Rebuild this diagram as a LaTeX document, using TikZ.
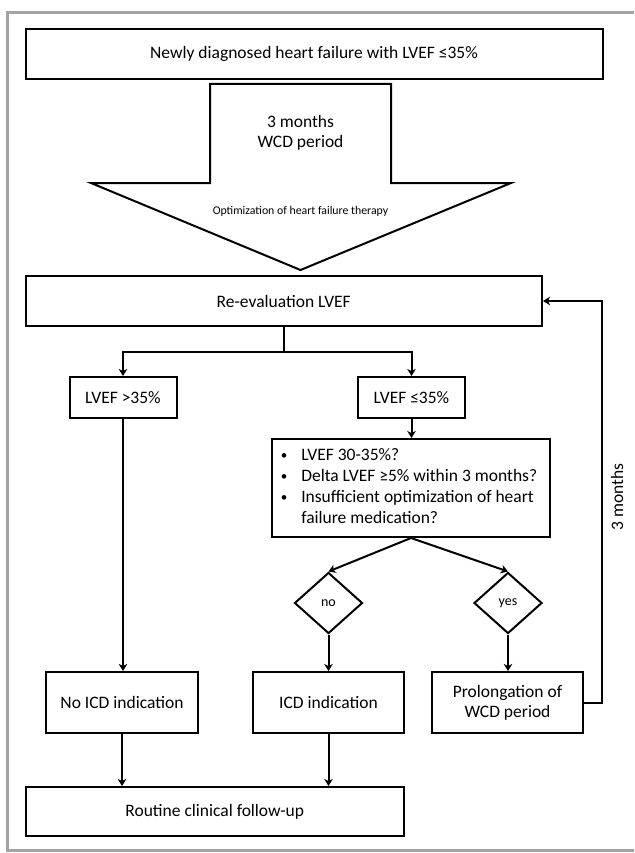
\documentclass[tikz,border=0pt]{standalone}
\usepackage{fontspec}
\setmainfont{Carlito}
\usetikzlibrary{shapes.geometric,arrows.meta}
\definecolor{framegray}{RGB}{163,163,163}
\newcommand\mainsz{\fontsize{17.5}{20}\selectfont}
\newcommand\bulsz{\fontsize{17.5}{21}\selectfont}
\newcommand\optsz{\fontsize{11.8}{14}\selectfont}
\newcommand\diasz{\fontsize{14}{16}\selectfont}
\newcommand\smbul{\raisebox{1.2pt}{\fontsize{13}{13}\selectfont\textbullet}}
\begin{document}
\begin{tikzpicture}[x=1pt,y=-1pt,
  box/.style={draw, line width=2pt, inner sep=0pt, align=center, font=\mainsz},
  dia/.style={draw, diamond, line width=2pt, inner sep=0pt, minimum width=68pt, minimum height=61pt, font=\diasz},
  conn/.style={line width=2pt, -{Stealth[length=7pt,width=8.5pt,inset=2pt]}},
  plain/.style={line width=2pt},
  frameline/.style={draw=framegray, line width=2.8pt}]
\useasboundingbox (0,0) rectangle (634,853);
% frame
\draw[frameline] (634,12.7) -- (7.4,12.7) -- (7.4,850.8) -- (634,850.8);
% top box
\node[box, minimum width=577pt, minimum height=50pt] (top) at (314,54) {Newly diagnosed heart failure with LVEF ≤35\%};
% big arrow
\draw[plain, line join=miter] (210,84) -- (391,84) -- (391,183) -- (511,183) -- (300.5,270) -- (91,183) -- (210,183) -- cycle;
\node[font=\mainsz, align=center] (period) at (300.5,133) {3 months\\WCD period};
\node[font=\optsz] (optim) at (300.5,211) {Optimization of heart failure therapy};
% re-evaluation
\node[box, minimum width=516.5pt, minimum height=50pt] (reeval) at (283.75,301) {Re-evaluation LVEF};
\node[box, minimum width=107pt, minimum height=41pt] (lvefhi) at (123,397.5) {LVEF >35\%};
\node[box, minimum width=107pt, minimum height=41pt] (lveflo) at (411.5,397.5) {LVEF ≤35\%};
\node[box, minimum width=278pt, minimum height=98pt, font=\bulsz] (bullets) at (411,488)
  {\begin{tabular}{@{}l@{\hspace{14pt}}l@{}}
   \smbul & LVEF 30-35\%?\\
   \smbul & Delta LVEF ≥5\% within 3 months?\\
   \smbul & Insufficient optimization of heart\\
          & failure medication?
   \end{tabular}\hspace*{4pt}};
\node[dia] (no) at (328.5,603) {no};
\node[dia] (yes) at (508,603) {yes};
\node[box, minimum width=152pt, minimum height=61pt] (noicd) at (122,702.5) {No ICD indication};
\node[box, minimum width=151pt, minimum height=61pt] (icd) at (328.5,702.5) {ICD indication};
\node[box, minimum width=151pt, minimum height=61pt] (prolong) at (507.5,702.5) {Prolongation of\\WCD period};
\node[box, minimum width=378.5pt, minimum height=49pt] (routine) at (214.75,811.5) {Routine clinical follow-up};
\node[font=\mainsz, rotate=90] (threem) at (617,497) {3 months};
% connectors
\coordinate (split) at (283.75,352);
\draw[plain] (reeval.south) -- (split);
\draw[conn] (split) -| (lvefhi.north);
\draw[conn] (split) -| (lveflo.north);
\draw[conn] (lvefhi.south) -- (lvefhi.south |- noicd.north);
\draw[conn] (lveflo.south) -- (lveflo.south |- bullets.north);
\draw[conn] (bullets.south) -- (no.north);
\draw[conn] (bullets.south) -- (yes.north);
\draw[conn] (no.south) -- (no.south |- icd.north);
\draw[conn] (yes.south) -- (yes.south |- prolong.north);
\draw[conn] (noicd.south) -- (noicd.south |- routine.north);
\draw[conn] (icd.south) -- (icd.south |- routine.north);
\draw[conn] (prolong.east) -- ++(18,0) |- (reeval.east);
\end{tikzpicture}
\end{document}
